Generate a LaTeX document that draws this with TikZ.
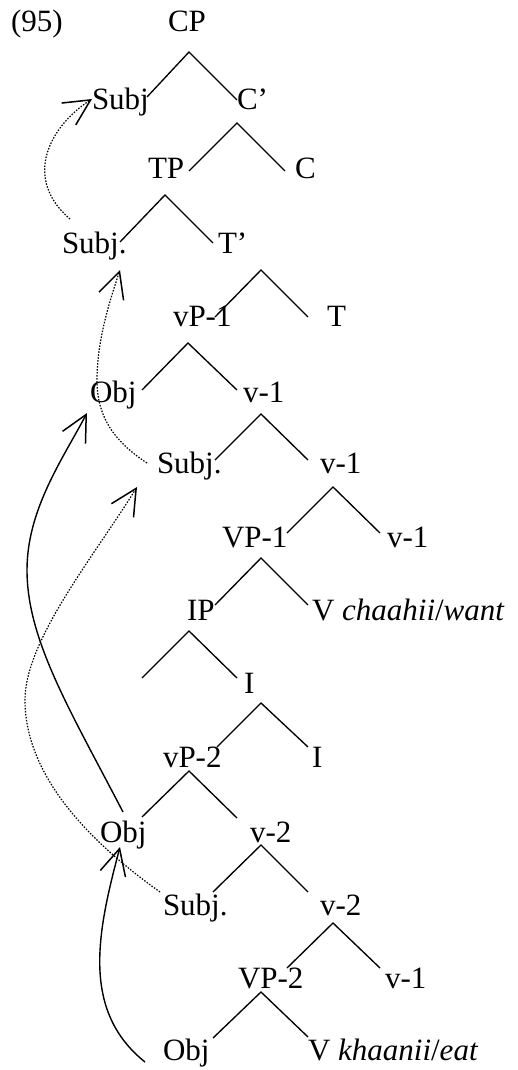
\documentclass[tikz,border=0pt]{standalone}
\usepackage{fontspec}
\setmainfont{Liberation Serif}
\usetikzlibrary{arrows.meta}
\begin{document}
\begin{tikzpicture}[x=1pt,y=-1pt,
  lbl/.style={anchor=base west,inner sep=0pt,outer sep=0pt,font=\fontsize{31}{37}\selectfont},
  branch/.style={line width=1.35pt},
  tip/.style={-{Straight Barb[length=26pt,width=26pt,line width=1.5pt]}},
  mv/.style={line width=1.4pt,tip},
  mvdot/.style={line width=1.2pt,dash pattern=on 1.5pt off 1.5pt,tip}]
\useasboundingbox (0,0) rectangle (518,1070);
% labels
\node[lbl] (ex)   at (11,32)  {(95)};
\node[lbl] (cp)   at (168,32) {CP};
\node[lbl] (subjA) at (92,110) {Subj};
\node[lbl] (cbar) at (237,110) {C’};
\node[lbl] (tp)   at (148,178) {TP};
\node[lbl] (c)    at (295,178) {C};
\node[lbl] (subjB) at (62,253) {Subj.};
\node[lbl] (tbar) at (218,253) {T’};
\node[lbl] (vpa)  at (173,326) {vP-1};
\node[lbl] (t)    at (327,326) {T};
\node[lbl] (objA) at (90,402) {Obj};
\node[lbl] (va1)  at (243,402) {v-1};
\node[lbl] (subjC) at (157,473) {Subj.};
\node[lbl] (va2)  at (320,473) {v-1};
\node[lbl] (VPa)  at (222,547) {VP-1};
\node[lbl] (va3)  at (387,547) {v-1};
\node[lbl] (ip)   at (187,620) {IP};
\node[lbl] (vwant) at (312,620) {V \textit{chaahii}/\textit{want}};
\node[lbl] (ibar) at (244,693) {I};
\node[lbl] (vpb)  at (163,767) {vP-2};
\node[lbl] (i)    at (312,767) {I};
\node[lbl] (objB) at (100,842) {Obj};
\node[lbl] (vb1)  at (250,842) {v-2};
\node[lbl] (subjD) at (163,915) {Subj.};
\node[lbl] (vb2)  at (320,915) {v-2};
\node[lbl] (VPb)  at (238,988) {VP-2};
\node[lbl] (vb3)  at (385,988) {v-1};
\node[lbl] (objC) at (163,1060) {Obj};
\node[lbl] (veat) at (308,1060) {V \textit{khaanii}/\textit{eat}};
% branches: apex, left end, right end
\foreach \n/\ax/\ay/\lx/\ly/\rx/\ry in {
  b1/189/52/147/97/237/100,
  b2/237/123/189/171/285/171,
  b3/165/195/120/242/213/243,
  b4/261/270/215/317/308/317,
  b5/188/343/142/390/237/390,
  b6/261/414/215/460/308/460,
  b7/333/487/287/533/380/533,
  b8/261/558/215/605/308/605,
  b9/189/631/142/678/237/678,
  b10/261/703/217/747/308/747,
  b11/189/771/142/817/237/818,
  b12/261/845/213/892/308/892,
  b13/333/923/287/968/380/968,
  b14/261/992/213/1038/308/1037}{
  \coordinate (\n a) at (\ax,\ay);
  \coordinate (\n l) at (\lx,\ly);
  \coordinate (\n r) at (\rx,\ry);
  \draw[branch] (\n l) -- (\n a) -- (\n r);
}
% movement arrows
\coordinate (m1s) at (70,219);  \coordinate (m1e) at (92,99);
\coordinate (m2s) at (147,463); \coordinate (m2e) at (120,270);
\coordinate (m3s) at (123,812); \coordinate (m3e) at (87,413);
\coordinate (m4s) at (160,892); \coordinate (m4e) at (137,487);
\coordinate (m5s) at (145,1062); \coordinate (m5e) at (120,847);
\draw[mvdot] (m1s) .. controls (22,178) and (50,126) .. (m1e);
\draw[mvdot] (m2s) .. controls (112,440) and (97,415) .. (97,380) .. controls (97,340) and (110,300) .. (m2e);
\draw[mv] (m3s) .. controls (70,710) and (27,640) .. (27,570) .. controls (27,510) and (62,460) .. (m3e);
\draw[mvdot] (m4s) .. controls (80,835) and (25,770) .. (25,700) .. controls (25,640) and (95,555) .. (m4e);
\draw[mv] (m5s) .. controls (80,1010) and (98,930) .. (m5e);
\end{tikzpicture}
\end{document}
